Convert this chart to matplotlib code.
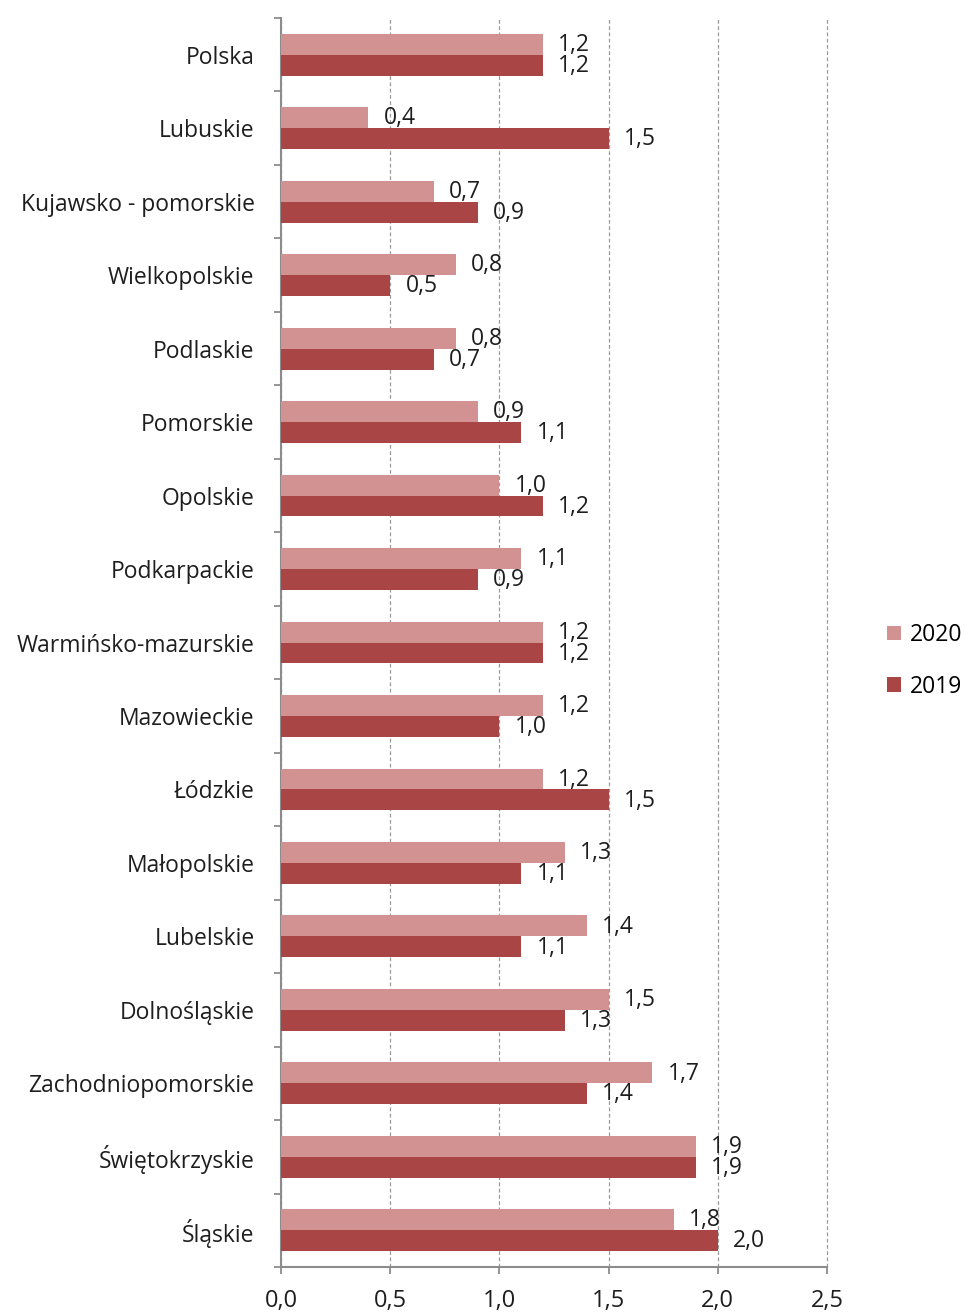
import matplotlib
matplotlib.use("Agg")
import matplotlib.pyplot as plt
from matplotlib.ticker import FixedLocator, FuncFormatter
import numpy as np

plt.rcParams['font.family'] = ['Open Sans', 'DejaVu Sans']

categories = ["Polska", "Lubuskie", "Kujawsko - pomorskie", "Wielkopolskie", "Podlaskie",
              "Pomorskie", "Opolskie", "Podkarpackie", "Warmińsko-mazurskie", "Mazowieckie",
              "Łódzkie", "Małopolskie", "Lubelskie", "Dolnośląskie", "Zachodniopomorskie",
              "Świętokrzyskie", "Śląskie"]
values_2020 = [1.2, 0.4, 0.7, 0.8, 0.8, 0.9, 1.0, 1.1, 1.2, 1.2, 1.2, 1.3, 1.4, 1.5, 1.7, 1.9, 1.8]
values_2019 = [1.2, 1.5, 0.9, 0.5, 0.7, 1.1, 1.2, 0.9, 1.2, 1.0, 1.5, 1.1, 1.1, 1.3, 1.4, 1.9, 2.0]
series_names = ["2020", "2019"]
xticks = [0.0, 0.5, 1.0, 1.5, 2.0, 2.5]

c2020 = "#D39292"
c2019 = "#A94545"
tc = "#1e1e1e"

fig = plt.figure(figsize=(9.65, 13.15), dpi=100)
ax = fig.add_axes([281/965, 1 - 1267/1315, (827 - 281)/965, (1267 - 18)/1315])

n = len(categories)
y = np.arange(n)
h = 0.285
b1 = ax.barh(y - h/2, values_2020, height=h, color=c2020, label=series_names[0], zorder=3)
b2 = ax.barh(y + h/2, values_2019, height=h, color=c2019, label=series_names[1], zorder=3)

fmt = lambda v: f"{v:.1f}".replace(".", ",")
for bars, vals in ((b1, values_2020), (b2, values_2019)):
    for rect, v in zip(bars, vals):
        ax.annotate(fmt(v), (v, rect.get_y() + rect.get_height()/2),
                    xytext=(11, -0.5), textcoords="offset points",
                    ha="left", va="center", fontsize=16.5, color=tc, zorder=4)

ax.set_xlim(0, 2.5)
ax.set_ylim(n - 0.5, -0.5)
ax.set_xticks(xticks)
ax.xaxis.set_major_formatter(FuncFormatter(lambda v, p: fmt(v)))
ax.set_yticks(y)
ax.set_yticklabels(categories)
ax.yaxis.set_minor_locator(FixedLocator(np.arange(-0.5, n, 1.0)))
ax.tick_params(axis="y", which="major", length=0, pad=19, labelsize=16.5, labelcolor=tc)
ax.tick_params(axis="y", which="minor", length=5, width=1.3, color="#8c8c8c")
ax.tick_params(axis="x", which="major", length=5, width=1.3, color="#8c8c8c", pad=11,
               labelsize=17, labelcolor=tc)

for s in ("top", "right"):
    ax.spines[s].set_visible(False)
for s in ("left", "bottom"):
    ax.spines[s].set_color("#8c8c8c")
    ax.spines[s].set_linewidth(1.5)

ax.grid(axis="x", linestyle=(0, (3, 2)), color="#9a9a9a", linewidth=0.9, zorder=0)
ax.set_axisbelow(True)
for gl in ax.get_xgridlines():
    gl.set_clip_on(False)

leg = fig.legend(handles=[b1, b2], labels=series_names, loc="center left",
                 bbox_to_anchor=(887/965, 1 - 661/1315), frameon=False, fontsize=16.5,
                 borderpad=0, borderaxespad=0,
                 handlelength=0.6, handleheight=0.6, handletextpad=0.4, labelspacing=1.2)

fig.savefig("out.png", dpi=100)
